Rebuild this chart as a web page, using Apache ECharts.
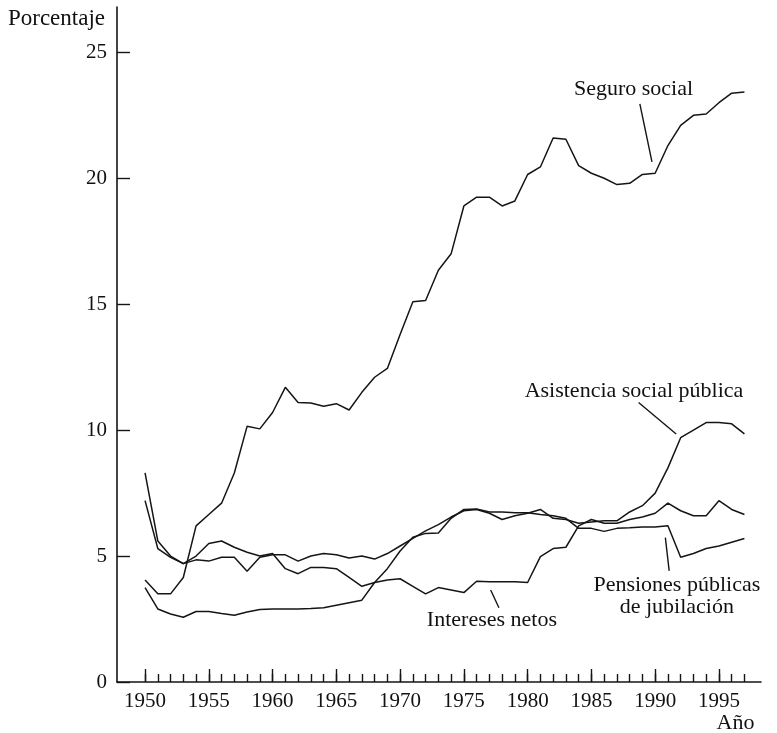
<!DOCTYPE html>
<html>
<head>
<meta charset="utf-8">
<script src="https://cdn.jsdelivr.net/npm/echarts@6/dist/echarts.min.js"></script>
<style>
html,body{margin:0;padding:0;background:#fff;}
#chart{width:777px;height:733px;}
</style>
</head>
<body>
<div id="chart"></div>
<script>
const years = [1950,1951,1952,1953,1954,1955,1956,1957,1958,1959,
  1960,1961,1962,1963,1964,1965,1966,1967,1968,1969,
  1970,1971,1972,1973,1974,1975,1976,1977,1978,1979,
  1980,1981,1982,1983,1984,1985,1986,1987,1988,1989,
  1990,1991,1992,1993,1994,1995,1996,1997];

const seguroSocial = [4.05,3.5,3.5,4.15,6.2,6.65,7.1,8.3,10.15,10.05,
  10.7,11.7,11.1,11.08,10.95,11.05,10.8,11.5,12.1,12.45,
  13.8,15.1,15.15,16.35,17.0,18.9,19.25,19.25,18.9,19.1,
  20.15,20.45,21.6,21.55,20.5,20.2,20.0,19.75,19.8,20.15,
  20.2,21.3,22.1,22.5,22.55,23.0,23.38,23.43];

const asistenciaSocial = [8.3,5.6,5.0,4.7,4.85,4.8,4.95,4.95,4.4,4.95,
  5.05,5.05,4.8,5.0,5.1,5.05,4.92,5.0,4.88,5.1,
  5.4,5.7,6.0,6.25,6.55,6.8,6.85,6.7,6.45,6.6,
  6.7,6.85,6.5,6.45,6.3,6.35,6.4,6.4,6.75,7.0,
  7.5,8.5,9.7,10.0,10.3,10.3,10.25,9.85];

const interesesNetos = [7.2,5.3,4.95,4.7,5.0,5.5,5.6,5.35,5.15,5.0,
  5.1,4.5,4.3,4.55,4.55,4.5,4.15,3.8,3.95,4.05,
  4.1,3.8,3.5,3.75,3.65,3.55,4.0,3.98,3.98,3.98,
  3.95,4.98,5.3,5.35,6.2,6.45,6.3,6.3,6.45,6.55,
  6.7,7.1,6.8,6.6,6.6,7.2,6.85,6.65];

const pensionesPublicas = [3.75,2.9,2.7,2.57,2.8,2.8,2.72,2.65,2.78,2.88,
  2.9,2.9,2.9,2.92,2.95,3.05,3.15,3.25,3.95,4.5,
  5.2,5.75,5.9,5.92,6.5,6.85,6.87,6.75,6.75,6.72,
  6.72,6.65,6.6,6.5,6.1,6.1,5.98,6.1,6.12,6.15,
  6.15,6.2,4.95,5.1,5.3,5.4,5.55,5.7];

const yTickValues = [0,5,10,15,20,25];
const xLabelYears = [1950,1955,1960,1965,1970,1975,1980,1985,1990,1995];
const xMinorYears = years;

const seriesDefs = [
  {name:'Seguro social', values: seguroSocial},
  {name:'Asistencia social pública', values: asistenciaSocial},
  {name:'Intereses netos', values: interesesNetos},
  {name:'Pensiones públicas de jubilación', values: pensionesPublicas}
];

// Annotation anchors in data space (year, percent)
const annotations = [
  {text:'Seguro social', at:[1988.3,23.55], line:[[1988.8,22.95],[1989.75,20.65]]},
  {text:'Asistencia social pública', at:[1988.34,11.55], line:[[1988.7,11.1],[1991.65,9.85]]},
  {text:'Intereses netos', at:[1977.2,2.45], line:[[1977.1,3.65],[1977.75,2.95]]},
  {text:'Pensiones públicas\nde jubilación', at:[1991.7,3.4], line:[[1990.8,5.73],[1991.1,4.41]]}
];

const FONT = '"Liberation Serif", "Times New Roman", serif';
const INK = '#151515';

const chart = echarts.init(document.getElementById('chart'), null, {renderer:'canvas'});

const xCommon = {
  type:'value', min:1947.8, max:1998.3, position:'bottom',
  splitLine:{show:false}
};

const option = {
  backgroundColor:'#fff',
  animation:false,
  grid:{left:117, right:16, top:7, bottom:51, containLabel:false},
  xAxis:[
    Object.assign({}, xCommon, {
      axisLine:{show:true, onZero:false, lineStyle:{color:INK, width:1.6}},
      axisTick:{show:true, inside:true, length:8, customValues:xMinorYears, lineStyle:{color:INK, width:1.4}},
      axisLabel:{show:false}
    }),
    Object.assign({}, xCommon, {
      axisLine:{show:false, onZero:false},
      axisTick:{show:true, inside:true, length:13, customValues:xLabelYears, lineStyle:{color:INK, width:1.4}},
      axisLabel:{show:true, customValues:xLabelYears, margin:9, color:'#111', fontFamily:FONT, fontSize:21,
        formatter:(v)=>String(v)}
    })
  ],
  yAxis:{
    type:'value', min:0, max:26.8,
    splitLine:{show:false},
    axisLine:{show:true, onZero:false, lineStyle:{color:INK, width:1.6}},
    axisTick:{show:true, inside:true, length:13, customValues:yTickValues, lineStyle:{color:INK, width:1.4}},
    axisLabel:{show:true, customValues:yTickValues, margin:10, color:'#111', fontFamily:FONT, fontSize:21,
      formatter:(v)=>String(v)}
  },
  series: seriesDefs.map(s => ({
    name:s.name, type:'line', xAxisIndex:0, symbol:'none',
    lineStyle:{color:INK, width:1.5},
    data: years.map((y,i)=>[y, s.values[i]]),
    z:3
  }))
};
chart.setOption(option);

function px(pt){ return chart.convertToPixel({xAxisIndex:0, yAxisIndex:0}, pt); }

const graphics = [];
annotations.forEach(a=>{
  const p = px(a.at);
  graphics.push({type:'text', x:p[0], y:p[1], z:10,
    style:{text:a.text, font:'22px ' + FONT, fill:'#111', align:'center', verticalAlign:'middle', lineHeight:22}});
  const l0 = px(a.line[0]), l1 = px(a.line[1]);
  graphics.push({type:'line', z:10, shape:{x1:l0[0], y1:l0[1], x2:l1[0], y2:l1[1]},
    style:{stroke:INK, lineWidth:1.4}});
});
graphics.push({type:'text', x:105, y:19, z:10,
  style:{text:'Porcentaje', font:'23px ' + FONT, fill:'#111', align:'right', verticalAlign:'middle'}});
const anoPos = px([1996.3, 0]);
graphics.push({type:'text', x:anoPos[0], y:anoPos[1] + 41, z:10,
  style:{text:'Año', font:'22px ' + FONT, fill:'#111', align:'center', verticalAlign:'middle'}});

chart.setOption({graphic:graphics});
</script>
</body>
</html>
